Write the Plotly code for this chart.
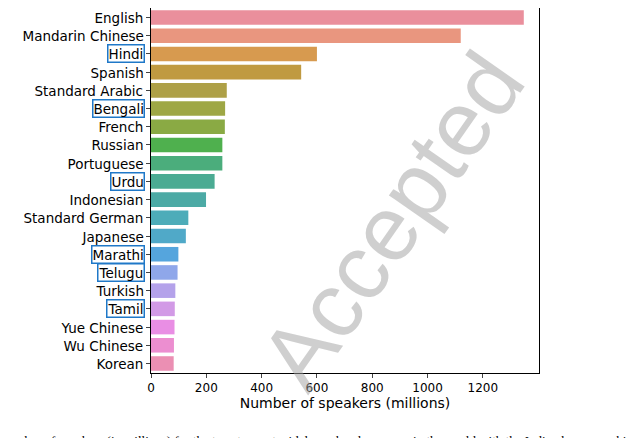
import plotly.graph_objects as go

languages = ["English", "Mandarin Chinese", "Hindi", "Spanish", "Standard Arabic", "Bengali",
             "French", "Russian", "Portuguese", "Urdu", "Indonesian", "Standard German",
             "Japanese", "Marathi", "Telugu", "Turkish", "Tamil", "Yue Chinese", "Wu Chinese", "Korean"]
speakers = [1348, 1120, 600, 543, 274, 268, 267, 258, 258, 230, 199, 135, 126, 99, 96, 88, 86, 85, 83, 82]
indian = ["Hindi", "Bengali", "Urdu", "Marathi", "Telugu", "Tamil"]
colors = ["#ea8f9c", "#e9967f", "#d79a4f", "#c09a41", "#aea047", "#9ea745", "#8aaa44",
          "#4fb04e", "#4bad7c", "#4bab93", "#4caaa5", "#4dacb9", "#50a9c8", "#55a5dd",
          "#8fa7ea", "#b4a2ea", "#d29ae6", "#e98ee4", "#ec8ed0", "#eb8fb3"]
font = "DejaVu Sans"

fig = go.Figure(go.Bar(x=speakers, y=languages, orientation="h", marker_color=colors,
                       marker_line_width=0, width=0.8))

# y tick labels as annotations so the Indian languages can get a box
for lang in languages:
    boxed = lang in indian
    fig.add_annotation(x=0, xref="paper", y=lang, yref="y", text=lang, showarrow=False,
                       xanchor="right", xshift=-6, font=dict(family=font, size=13.5, color="black"),
                       bordercolor="#1f78c8" if boxed else "rgba(0,0,0,0)", borderwidth=1.5,
                       borderpad=0)

# watermark
fig.add_annotation(x=1.02, xref="paper", y=-0.1, yref="paper", text="Accepted", showarrow=False,
                   textangle=-55, font=dict(family="Liberation Sans", size=92, color="rgba(160,160,160,0.5)"))

# caption, cut at the page edges like the reference
fig.add_annotation(x=-143 / 388 - 0.005, xref="paper", y=-(432 - 365) / 365, yref="paper",
                   showarrow=False, xanchor="left", yanchor="middle",
                   text="umber of speakers (in millions) for the twenty most widely spoken languages in the world with the Indian languages highlighted.",
                   font=dict(family="Liberation Serif", size=13, color="black"))

fig.update_layout(
    width=640, height=438, margin=dict(l=143, r=109, t=0, b=73),
    plot_bgcolor="white", paper_bgcolor="white", showlegend=False, bargap=0.2,
    font=dict(family=font, size=12, color="black"),
)
fig.update_xaxes(range=[0, 1403], tickvals=[0, 200, 400, 600, 800, 1000, 1200], automargin=False,
                 showgrid=False, showline=True, linecolor="black", linewidth=1, mirror=True,
                 ticks="outside", ticklen=4,
                 title=dict(text="Number of speakers (millions)", font=dict(size=14), standoff=2),
                 zeroline=False)
fig.update_yaxes(autorange="reversed", showticklabels=False, showgrid=False, showline=True,
                 automargin=False, linecolor="black", linewidth=1, mirror=True, ticks="outside", ticklen=4)

fig.write_html("out.html")
